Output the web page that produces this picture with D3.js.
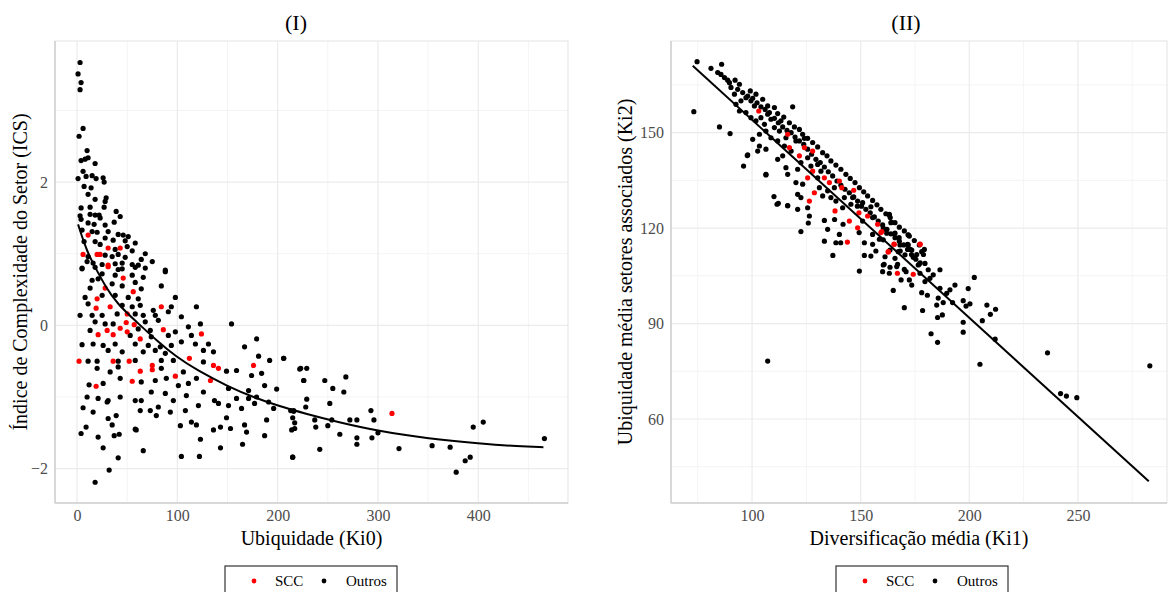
<!DOCTYPE html>
<html>
<head>
<meta charset="utf-8">
<script src="https://cdn.jsdelivr.net/npm/d3@7"></script>
<style>
  body { margin: 0; background: #fff; }
  text { font-family: "Liberation Serif", "DejaVu Serif", serif; }
</style>
</head>
<body>
<svg id="chart" width="1169" height="592"></svg>
<script>
// ---- dati pannello I: Ubiquidade (Ki0) x ICS ----
const ticksX1 = [0, 100, 200, 300, 400]
const ticksY1 = [-2, 0, 2]
const minorX1 = [50, 150, 250, 350, 450]
const minorY1 = [-1, 1, 3]

const scc1 = [[11,1.26],[31,1.08],[43,1.08],[6,0.99],[20,0.99],[23,0.99],[31,0.84],[31,0.82],[46,0.66],[28,0.52],[56,0.47],[20,0.37],[19,0.24],[33,0.26],[84,0.26],[50,0.16],[49,0.04],[57,0.01],[30,-0.07],[43,-0.04],[50,-0.09],[86,-0.06],[21,-0.13],[36,-0.13],[63,-0.19],[124,-0.12],[2,-0.5],[36,-0.5],[52,-0.5],[75,-0.56],[112,-0.46],[136,-0.56],[141,-0.6],[176,-0.56],[63,-0.64],[75,-0.62],[98,-0.71],[19,-0.85],[55,-0.78],[133,-0.77],[314,-1.23]]

const outros1 = [[3,3.67],[1,3.51],[4,3.39],[3,3.29],[6,2.75],[2,2.64],[10,2.44],[4,2.30],[8,2.32],[11,2.34],[18,2.26],[6,2.15],[1,2.05],[9,2.08],[15,2.09],[19,2.05],[26,2.06],[27,2.0],[7,1.94],[14,1.92],[11,1.83],[18,1.76],[29,1.78],[28,1.73],[4,1.64],[13,1.65],[27,1.65],[3,1.53],[13,1.55],[18,1.54],[22,1.54],[39,1.59],[43,1.52],[4,1.48],[23,1.50],[11,1.43],[28,1.40],[37,1.44],[17,1.41],[5,1.33],[15,1.31],[20,1.30],[31,1.31],[41,1.27],[46,1.26],[51,1.24],[28,1.22],[36,1.19],[48,1.18],[58,1.15],[7,1.17],[18,1.17],[23,1.13],[38,1.06],[50,1.10],[55,1.04],[68,1.0],[11,0.96],[28,0.98],[35,0.96],[41,0.99],[48,0.95],[64,0.92],[75,0.89],[10,0.89],[16,0.87],[25,0.85],[38,0.86],[45,0.87],[55,0.85],[61,0.84],[88,0.77],[5,0.80],[41,0.78],
[5,0.79],[18,0.81],[45,0.79],[58,0.81],[68,0.80],[88,0.75],[25,0.72],[38,0.70],[55,0.70],[66,0.67],[15,0.63],[21,0.65],[35,0.58],[58,0.60],[84,0.55],[13,0.52],[45,0.55],[64,0.51],[8,0.39],[25,0.42],[38,0.42],[51,0.39],[61,0.37],[98,0.39],[11,0.30],[45,0.28],[55,0.26],[63,0.28],[76,0.21],[94,0.26],[119,0.26],[3,0.14],[15,0.14],[25,0.14],[40,0.16],[58,0.16],[66,0.14],[78,0.14],[91,0.19],[104,0.12],[18,0.05],[28,0.02],[36,0.02],[68,0.05],[81,0.07],[123,0.02],[154,0.02],[13,-0.07],[61,-0.05],[73,-0.07],[98,-0.09],[111,-0.02],[53,-0.14],[74,-0.16],[91,-0.14],[114,-0.14],[5,-0.27],[16,-0.26],[26,-0.28],[38,-0.26],[58,-0.26],[71,-0.28],[83,-0.30],[94,-0.28],[104,-0.23],[118,-0.26],[131,-0.26],[167,-0.30],[179,-0.19],[31,-0.35],[45,-0.37],[66,-0.37],[78,-0.35],[88,-0.39],[126,-0.35],[136,-0.37],[11,-0.50],[20,-0.50],[41,-0.50],[58,-0.49],[84,-0.49],[96,-0.49],[126,-0.51],[159,-0.63],[181,-0.43],[192,-0.49],[206,-0.46],[222,-0.61],[20,-0.60],[33,-0.65],[41,-0.58],[84,-0.60],[106,-0.65],[149,-0.64],[174,-0.70],[184,-0.67],[226,-0.77],[12,-0.83],[26,-0.81],[43,-0.74],[64,-0.79],[78,-0.77],[89,-0.74],[101,-0.84],[111,-0.81],[119,-0.74],[151,-0.88],[171,-0.91],[187,-0.84],[199,-0.89],[10,-1.0],[21,-1.02],[30,-1.07],[43,-1.0],[58,-1.05],[64,-1.05],[74,-0.93],[88,-0.95],[96,-1.05],[109,-0.98],[126,-0.93],[137,-1.05],[159,-1.02],[171,-1.02],[179,-1.0],[191,-1.07],[6,-1.15],[16,-1.21],[31,-1.05],[39,-1.26],[63,-1.19],[73,-1.19],[81,-1.14],[93,-1.21],[108,-1.19],[121,-1.12],[141,-1.09],[151,-1.12],[164,-1.16],[177,-1.09],[196,-1.16],[216,-1.19],[31,-1.30],[35,-1.39],[58,-1.45],[79,-1.26],[103,-1.40],[114,-1.35],[119,-1.39],[136,-1.46],[143,-1.42],[149,-1.29],[153,-1.44],[167,-1.39],[169,-1.49],[189,-1.32],[217,-1.44],[4,-1.51],[9,-1.42],[21,-1.56],[37,-1.54],[42,-1.52],[59,-1.46],[123,-1.59],[143,-1.71],[165,-1.66],[187,-1.54],[26,-1.71],[41,-1.85],[66,-1.75],[104,-1.83],[122,-1.83],[215,-1.84],[32,-2.02],[18,-2.19],
[206,-0.46],[223,-0.60],[229,-0.60],[226,-0.77],[247,-0.77],[268,-0.72],[255,-0.88],[266,-0.93],[229,-1.03],[228,-1.14],[252,-1.09],[213,-1.19],[216,-1.20],[293,-1.19],[215,-1.29],[237,-1.32],[254,-1.32],[272,-1.32],[279,-1.32],[296,-1.32],[238,-1.42],[250,-1.40],[217,-1.36],[214,-1.46],[300,-1.50],[262,-1.52],[279,-1.57],[294,-1.57],[279,-1.66],[242,-1.73],[321,-1.72],[354,-1.68],[372,-1.70],[395,-1.42],[405,-1.35],[392,-1.84],[387,-1.89],[378,-2.05],[215,-1.84],[466,-1.58]]

// curva loess stimata
const fit1 = [[1,1.41],[10,1.02],[20,0.76],[28,0.55],[40,0.3],[60,0.04],[80,-0.22],[98,-0.43],[120,-0.63],[150,-0.85],[177,-1.01],[202,-1.13],[227,-1.23],[260,-1.35],[302,-1.48],[350,-1.58],[402,-1.65],[440,-1.69],[465,-1.70]]

// ---- dati pannello II: Diversificação média (Ki1) x Ki2 ----
const ticksX2 = [100, 150, 200, 250]
const ticksY2 = [60, 90, 120, 150]
const minorX2 = [75, 125, 175, 225, 275]
const minorY2 = [45, 75, 105, 135, 165]

const scc2 = [[103.1,156.8],[116.4,149.5],[117.2,145.3],[121.8,142.7],[124.1,145.3],[127.9,144.2],[127.9,137.9],[125.6,135.8],[133.3,135.8],[135.6,134.3],[140.2,134.8],[141.3,132.7],[146.8,131.9],[128.7,131.1],[126.4,128.5],[138.2,125.4],[149.2,124.8],[153.2,123.8],[144.8,122.2],[157.8,121.2],[159.3,118.6],[148.6,120.1],[143.9,115.6],[165.5,114.9],[162.7,112.5],[177.4,114.9],[159.7,118.9],[165.3,115.0],[177.3,115.0],[162.7,112.6],[166.9,105.8],[174.2,105.5]]

const outros2 = [[74.7,172.3],[73.2,156.6],[81.1,170.2],[86.0,171.5],[84.2,168.9],[85.7,168.3],[87.3,167.3],[88.8,166.5],[92.2,166.5],[90.3,164.2],[93.4,163.6],[95.7,162.6],[91.9,162.1],[97.2,161.0],[99.5,160.0],[94.9,160.0],[101.1,158.4],[92.6,158.9],[94.2,156.8],[97.2,156.3],[85.0,151.8],[89.9,149.7],[99.5,154.7],[101.8,153.7],[104.1,154.7],[107.2,155.8],[108.7,154.2],[105.7,152.6],[100.3,147.9],[103.4,149.5],[106.4,150.5],[110.3,151.6],[113.3,153.7],[112.6,150.5],[115.6,148.4],[118.7,158.1],[108.7,148.4],[111.8,147.4],[120.2,147.4],[124.1,148.2],[114.9,145.8],[118.0,144.2],[125.6,142.1],[103.4,145.8],[106.4,144.8],[98.0,143.0],[102.6,144.2],[96.1,139.5],[111.8,141.6],[114.1,142.7],[122.5,140.6],[127.1,139.5],[130.2,140.0],[131.7,137.9],[115.6,139.0],[121.0,138.5],[130.2,135.8],[137.9,132.7],[134.8,131.7],[131.0,132.7],[116.4,136.9],[120.2,134.3],[106.4,136.9],[123.3,133.8],[121.0,130.6],[122.5,129.6],[110.1,129.9],[111.5,127.5],[116.4,127.1],[121.0,125.9],[125.6,126.4],[132.5,130.1],[136.3,129.6],[142.5,129.6],[146.3,129.6],[138.6,128.5],[141.7,126.4],[145.5,127.5],[148.5,126.9],[150.9,128.0],[154.7,126.7],[150.9,122.2],[155.5,123.3],[163.2,124.3],[163.9,121.7],[160.8,119.6],[126.4,123.8],[125.9,121.6],[133.3,122.4],[138.0,122.7],[141.9,121.2],[149.3,118.6],[155.5,118.0],[134.8,119.6],[122.5,118.9],[140.2,118.0],[133.3,115.9],[138.6,115.4],[140.8,115.4],[151.7,115.4],[155.5,114.9],[158.6,116.5],[165.5,118.2],[167.7,117.0],[171.9,117.8],[171.6,114.9],[172.8,113.3],[168.2,112.8],[175.8,111.7],[178.9,111.7],[137.2,111.4],[151.7,111.4],[154.7,111.2],[157.0,112.8],[160.8,108.6],[167.0,108.6],[176.9,108.6],[149.4,106.5],[170.1,107.0],
[98.0,161.5],[100.3,160.8],[102.3,159.4],[104.1,158.1],[106.0,157.3],[108.0,156.3],[110.3,154.5],[112.1,153.1],[114.1,151.8],[116.1,150.7],[118.0,150.0],[119.8,148.6],[121.8,147.4],[123.8,146.3],[125.6,144.8],[127.4,143.2],[129.4,141.6],[131.4,140.6],[133.3,139.2],[135.1,137.7],[137.1,136.4],[139.1,134.8],[140.9,133.5],[142.8,132.2],[144.8,131.1],[146.8,129.8],[148.6,128.5],[150.4,126.9],[152.4,125.9],[154.4,124.8],[156.3,123.5],[158.1,122.2],[160.1,121.0],[162.1,119.6],[163.9,118.2],[165.8,117.0],[167.8,115.9],[169.8,114.7],[171.6,113.3],[173.4,111.7],[175.4,110.2],[177.4,109.1],
[89.6,165.7],[94.2,165.2],[99.2,163.1],[101.8,162.1],[104.9,160.5],[107.2,158.4],[110.3,157.9],[111.8,156.0],[114.6,154.9],[117.2,153.1],[119.5,151.8],[121.8,151.0],[123.3,149.5],[125.6,148.2],[127.9,146.9],[130.2,145.5],[132.5,143.7],[134.5,142.7],[136.3,141.1],[138.6,139.8],[140.9,138.5],[143.2,136.9],[145.2,135.6],[147.4,134.3],[149.4,132.7],[151.4,131.4],[153.2,130.1],[155.5,128.7],[157.5,127.3],[159.3,125.9],[161.6,124.5],[163.6,123.3],[165.8,121.7],[167.8,120.3],[170.1,119.1],[172.4,117.5],[174.7,116.1],[177.0,114.7],[179.3,113.3],
[163.2,124.1],[164.3,121.8],[160.4,120.0],[162.0,118.4],[165.8,118.4],[171.9,117.9],[160.4,116.3],[168.1,114.7],[171.9,114.7],[163.5,113.1],[167.3,112.6],[173.5,113.1],[178.1,112.6],[170.4,111.6],[174.2,110.8],[161.2,111.0],[165.8,110.5],[179.6,108.9],[176.5,108.4],[160.4,108.4],[163.5,107.7],[166.6,107.9],[181.1,106.9],[186.5,106.9],[160.1,106.3],[163.2,105.8],[170.9,106.3],[177.3,105.8],[183.4,105.3],[202.3,104.5],[168.6,103.7],[172.4,103.7],[179.6,103.2],[181.9,104.2],[173.5,102.1],[186.5,101.1],[191.1,100.6],[193.4,102.1],[199.5,101.0],[165.0,100.4],[178.1,99.7],[180.7,98.9],[189.6,99.5],[185.7,98.0],[197.2,97.2],[200.3,96.2],[198.5,95.5],[188.0,96.6],[185.0,95.8],[192.3,96.6],[170.1,95.0],[208.1,95.8],[212.1,94.5],[178.5,94.1],[187.6,92.7],[185.4,91.9],[209.7,92.9],[206.0,90.9],[197.2,90.4],[197.2,87.3],[182.4,86.8],[185.4,84.1],[211.9,85.1],[236.0,80.8],[204.9,77.2],[283.1,76.7],[242.0,68.0],[244.7,67.2],[249.5,66.7],[107.2,78.2],[97.8,142.8],[106.4,136.7],[112.1,127.8],[116.4,127.0]]

// retta di regressione stimata
const fit2 = [[72.7,171],[282.6,40.4]]

// ---- layout ----
const svg = d3.select('#chart')
const gridMajor = '#ebebeb'
const gridMinor = '#f4f4f4'
const tickColor = '#4d4d4d'
const dotR = 2.6

const panels = [
  {
    left: 55, right: 568, top: 41, bottom: 503,
    xDomain: [-22, 489.5], yDomain: [-2.48, 3.97],
    ticksX: ticksX1, ticksY: ticksY1, minorX: minorX1, minorY: minorY1,
    scc: scc1, outros: outros1, fit: fit1, curve: d3.curveBasis,
    title: '(I)', titleX: 296,
    xLabel: 'Ubiquidade (Ki0)', yLabel: 'Índice de Complexidade do Setor (ICS)', yLabelX: 27,
    legendX: 225
  },
  {
    left: 671, right: 1167, top: 41, bottom: 503,
    xDomain: [62.7, 291], yDomain: [33.6, 178.8],
    ticksX: ticksX2, ticksY: ticksY2, minorX: minorX2, minorY: minorY2,
    scc: scc2, outros: outros2, fit: fit2, curve: d3.curveLinear,
    title: '(II)', titleX: 906,
    xLabel: 'Diversificação média (Ki1)', yLabel: 'Ubiquidade média setores associados (Ki2)', yLabelX: 632,
    legendX: 836
  }
]

panels.forEach(p => {
  const x = d3.scaleLinear().domain(p.xDomain).range([p.left, p.right])
  const y = d3.scaleLinear().domain(p.yDomain).range([p.bottom, p.top])
  const g = svg.append('g')

  // griglia minore e maggiore
  g.selectAll('.mx').data(p.minorX).join('line')
    .attr('x1', d => x(d)).attr('x2', d => x(d)).attr('y1', p.top).attr('y2', p.bottom)
    .attr('stroke', gridMinor).attr('stroke-width', 1)
  g.selectAll('.my').data(p.minorY).join('line')
    .attr('y1', d => y(d)).attr('y2', d => y(d)).attr('x1', p.left).attr('x2', p.right)
    .attr('stroke', gridMinor).attr('stroke-width', 1)
  g.selectAll('.gx').data(p.ticksX).join('line')
    .attr('x1', d => x(d)).attr('x2', d => x(d)).attr('y1', p.top).attr('y2', p.bottom)
    .attr('stroke', gridMajor).attr('stroke-width', 1.2)
  g.selectAll('.gy').data(p.ticksY).join('line')
    .attr('y1', d => y(d)).attr('y2', d => y(d)).attr('x1', p.left).attr('x2', p.right)
    .attr('stroke', gridMajor).attr('stroke-width', 1.2)

  // bordo del pannello
  g.append('rect')
    .attr('x', p.left).attr('y', p.top)
    .attr('width', p.right - p.left).attr('height', p.bottom - p.top)
    .attr('fill', 'none').attr('stroke', '#e3e3e3').attr('stroke-width', 1)
  g.append('line').attr('x1', p.left).attr('x2', p.right).attr('y1', p.bottom).attr('y2', p.bottom)
    .attr('stroke', '#cfcfcf').attr('stroke-width', 1.5)
  g.append('line').attr('x1', p.left).attr('x2', p.left).attr('y1', p.top).attr('y2', p.bottom)
    .attr('stroke', '#cfcfcf').attr('stroke-width', 1.5)

  // punti
  g.selectAll('.o').data(p.outros).join('circle')
    .attr('cx', d => x(d[0])).attr('cy', d => y(d[1])).attr('r', dotR).attr('fill', '#000')
  g.selectAll('.s').data(p.scc).join('circle')
    .attr('cx', d => x(d[0])).attr('cy', d => y(d[1])).attr('r', dotR).attr('fill', '#ff0000')

  // linea di tendenza
  g.append('path')
    .datum(p.fit)
    .attr('d', d3.line().x(d => x(d[0])).y(d => y(d[1])).curve(p.curve))
    .attr('fill', 'none').attr('stroke', '#000').attr('stroke-width', 2)

  // assi
  const xAxis = g.append('g')
    .attr('transform', `translate(0, ${p.bottom})`)
    .call(d3.axisBottom(x).tickValues(p.ticksX).tickSize(0).tickPadding(7).tickFormat(d3.format('d')))
  const yAxis = g.append('g')
    .attr('transform', `translate(${p.left}, 0)`)
    .call(d3.axisLeft(y).tickValues(p.ticksY).tickSize(0).tickPadding(7).tickFormat(d3.format('d')))
  ;[xAxis, yAxis].forEach(a => {
    a.select('.domain').remove()
    a.selectAll('text')
      .style('font-family', '"Liberation Serif", serif')
      .style('font-size', '16px')
      .attr('fill', tickColor)
  })

  // titoli
  svg.append('text')
    .attr('x', p.titleX).attr('y', 30)
    .attr('text-anchor', 'middle')
    .style('font-size', '22px')
    .text(p.title)

  svg.append('text')
    .attr('x', (p.left + p.right) / 2).attr('y', 545)
    .attr('text-anchor', 'middle')
    .style('font-size', '20px')
    .text(p.xLabel)

  svg.append('text')
    .attr('transform', `translate(${p.yLabelX}, ${(p.top + p.bottom) / 2}) rotate(-90)`)
    .attr('text-anchor', 'middle')
    .style('font-size', '20px')
    .text(p.yLabel)

  // legenda
  const lg = svg.append('g').attr('transform', `translate(${p.legendX}, 566)`)
  lg.append('rect')
    .attr('x', 0).attr('y', 0).attr('width', 172).attr('height', 40)
    .attr('fill', '#fff').attr('stroke', '#333').attr('stroke-width', 1.2)
  lg.append('circle').attr('cx', 29).attr('cy', 15).attr('r', 2.4).attr('fill', '#ff0000')
  lg.append('text').attr('x', 50).attr('y', 20).style('font-size', '15px').text('SCC')
  lg.append('circle').attr('cx', 99).attr('cy', 15).attr('r', 2.4).attr('fill', '#000')
  lg.append('text').attr('x', 121).attr('y', 20).style('font-size', '15px').text('Outros')
})
</script>
</body>
</html>
